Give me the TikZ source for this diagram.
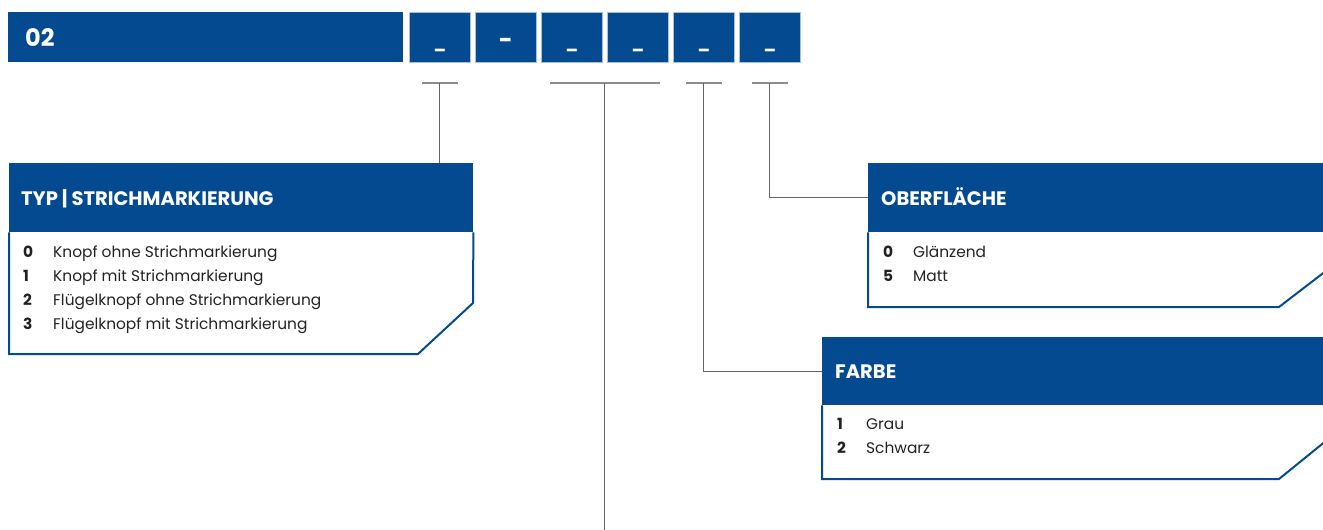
\documentclass[tikz,border=0pt]{standalone}
\usepackage{fontspec}
\setmainfont{Poppins}
\usetikzlibrary{positioning,calc}
\definecolor{kblue}{HTML}{034A91}
\definecolor{ktext}{HTML}{222222}

\begin{document}
\begin{tikzpicture}[
    x=1pt,y=-1pt,
    bar/.style={fill=kblue,minimum height=50pt,inner sep=0pt,anchor=north west},
    code/.style={bar,draw=kblue!35,line width=0.8pt,minimum width=61pt},
    codetxt/.style={text=white,font=\bfseries\fontsize{16}{16}\selectfont,inner sep=0pt,anchor=base},
    head/.style={fill=kblue,inner sep=0pt,anchor=north west},
    headtxt/.style={text=white,font=\bfseries\fontsize{19.5}{19.5}\selectfont,anchor=base west,inner sep=0pt},
    body/.style={draw=kblue,line width=2pt},
    num/.style={text=ktext,font=\bfseries\fontsize{15.4}{15.4}\selectfont,anchor=base west,inner sep=0pt},
    item/.style={text=ktext,font=\fontsize{15.4}{15.4}\selectfont,anchor=base west,inner sep=0pt},
    link/.style={draw=black!60,line width=1pt},
    tick/.style={draw=black!45,line width=1.5pt},
]
\useasboundingbox (0,0) rectangle (1323,530);
\clip (0,0) rectangle (1323,530);

% code bar
\node[bar,minimum width=395pt] (bar) at (8,12) {};
\node[headtxt,font=\bfseries\fontsize{24}{24}\selectfont] (nr) at (25,46) {02};
\foreach \i in {1,...,6}
    \node[code] (c\i) at ({409+66*(\i-1)},12) {};
\foreach \i in {1,3,4,5,6}
    \node[codetxt] (u\i) at ([yshift=14pt]c\i.south) {\_};
\node[codetxt,font=\bfseries\fontsize{24}{24}\selectfont] (u2) at ([yshift=14pt]c2.south) {-};

% ticks under the code fields
\coordinate (t1) at ([yshift=-20pt]c1.south);
\coordinate (t2) at ([yshift=-20pt]$(c3.south)!0.5!(c4.south)$);
\coordinate (t3) at ([yshift=-20pt]c5.south);
\coordinate (t4) at ([yshift=-20pt]c6.south);
\coordinate (bottom) at (0,530);
\draw[tick] ([xshift=-18pt]t1) -- ([xshift=18pt]t1);
\draw[tick] ([xshift=-55pt]t2) -- ([xshift=55pt]t2);
\draw[tick] ([xshift=-18pt]t3) -- ([xshift=18pt]t3);
\draw[tick] ([xshift=-18pt]t4) -- ([xshift=18pt]t4);

% TYP | STRICHMARKIERUNG
\node[head,minimum width=464pt,minimum height=69pt] (typhead) at (9,163) {};
\node[headtxt] (typtitle) at (21,205) {TYP\hspace{4pt}|\hspace{4pt}STRICHMARKIERUNG};
\draw[body] (typhead.south west) -- (9,354) -- (418,354) -- (473,303) -- (typhead.south east);
\foreach \n/\t [count=\i] in {0/Knopf ohne Strichmarkierung,1/Knopf mit Strichmarkierung,
        2/Flügelknopf ohne Strichmarkierung,3/Flügelknopf mit Strichmarkierung} {
    \node[num] (typn\i) at (23,{257+24*(\i-1)}) {\n};
    \node[item] (typt\i) at (53,{257+24*(\i-1)}) {\t};
}

% OBERFLAECHE
\node[head,minimum width=480pt,minimum height=69pt] (obhead) at (868,163) {};
\node[headtxt] (obtitle) at (881,205) {OBERFLÄCHE};
\draw[body] (obhead.south west) -- (868,307) -- (1279,307) -- (1348,254) -- (obhead.south east);
\foreach \n/\t [count=\i] in {0/Glänzend,5/Matt} {
    \node[num] (obn\i) at (883,{257+24*(\i-1)}) {\n};
    \node[item] (obt\i) at (913,{257+24*(\i-1)}) {\t};
}

% FARBE
\node[head,minimum width=526pt,minimum height=68pt] (farhead) at (822,337) {};
\node[headtxt] (fartitle) at (835,378) {FARBE};
\draw[body] (farhead.south west) -- (822,479) -- (1279,479) -- (1348,423) -- (farhead.south east);
\foreach \n/\t [count=\i] in {1/Grau,2/Schwarz} {
    \node[num] (farn\i) at (837,{429+24*(\i-1)}) {\n};
    \node[item] (fart\i) at (866,{429+24*(\i-1)}) {\t};
}

% connectors
\draw[link] (t1) -- (t1 |- typhead.north);
\draw[link] (t2) -- (t2 |- bottom);
\draw[link] (t3) |- (farhead.west);
\draw[link] (t4) |- (obhead.west);
\end{tikzpicture}
\end{document}
